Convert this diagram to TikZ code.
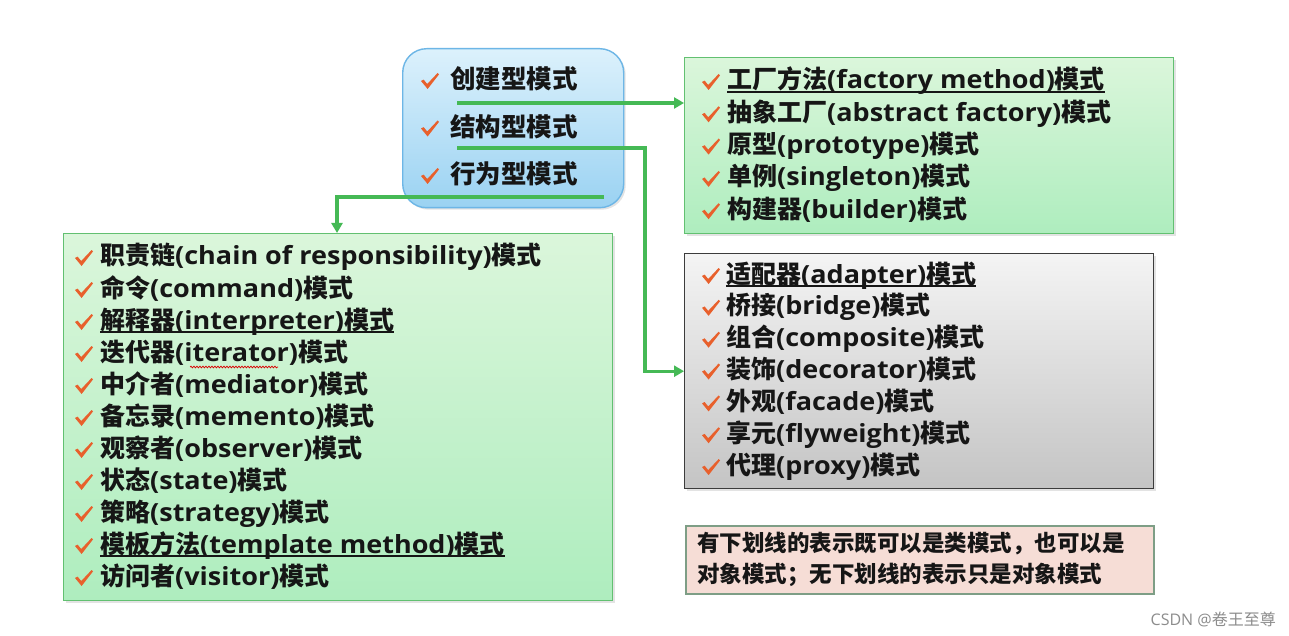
\documentclass[tikz,border=0pt]{standalone}
\usepackage{fontspec}
\setmainfont{Open Sans}[FakeStretch=1.08]
\newfontfamily\cjkf{Noto Sans CJK SC}
\newfontfamily\wmf{Open Sans}
\usetikzlibrary{arrows.meta,shadows,decorations.pathmorphing}
\definecolor{txt}{HTML}{161616}
\definecolor{conn}{HTML}{45B955}
\definecolor{chkc}{HTML}{E8602C}
\definecolor{grnb}{HTML}{62C071}
\definecolor{grnt}{HTML}{DBF6DB}
\definecolor{grnm}{HTML}{AEEDBE}
\definecolor{blub}{HTML}{6DB6E6}
\definecolor{blut}{HTML}{DCF1FC}
\definecolor{blum}{HTML}{9AD2F2}
\definecolor{gryb}{HTML}{3C3C3C}
\definecolor{gryt}{HTML}{F4F4F4}
\definecolor{grym}{HTML}{C4C4C4}
\definecolor{pnk}{HTML}{F6DDD6}
\definecolor{pnkb}{HTML}{7E9E86}
\definecolor{wm}{HTML}{8C8C8C}
\newlength\ulw
\newcommand\ulx[1]{\settowidth\ulw{#1}\rlap{\rule[-4pt]{\ulw}{1.7pt}}#1}
\newcommand\pat[2]{{\cjkf #1}(#2){\cjkf 模式}}
\tikzset{
  boxsh/.style={drop shadow={opacity=0.22,shadow xshift=2pt,shadow yshift=-2pt}},
  greenbox/.style={boxsh,draw=grnb,line width=1.4pt,top color=grnt,bottom color=grnm,anchor=north west,inner sep=0},
  graybox/.style={boxsh,draw=gryb,line width=1.4pt,top color=gryt,bottom color=grym,anchor=north west,inner sep=0},
  bluebox/.style={boxsh,draw=blub,line width=1.4pt,top color=blut,bottom color=blum,rounded corners=24pt,anchor=north west,inner sep=0},
  notebox/.style={draw=pnkb,line width=1.8pt,fill=pnk,anchor=north west,inner sep=0},
  item/.style={anchor=base west,inner sep=0,text=txt,font=\bfseries\fontsize{25}{30}\selectfont},
  cat/.style={anchor=base west,inner sep=0,text=txt,font=\bfseries\fontsize{25.5}{30}\selectfont},
  note/.style={anchor=base west,inner sep=0,text=txt,font=\bfseries\fontsize{22.5}{26}\selectfont\cjkf},
  conn/.style={draw=conn,line width=3.2pt},
  arr/.style={conn,-{Triangle[length=10pt,width=11pt]}},
  chk/.pic={\fill[chkc] (0,8) -- (2.6,6.6) -- (6.2,11) -- (16.6,0) -- (18,1.4) -- (6.6,16) -- cycle;}
}
\begin{document}
\begin{tikzpicture}[x=1pt,y=-1pt]
\useasboundingbox[fill=white] (0,0) rectangle (1289,636);
% boxes
\node[bluebox,minimum width=221pt,minimum height=159pt] (cat) at (402,48) {};
\node[greenbox,minimum width=489pt,minimum height=176pt] (crea) at (684,57) {};
\node[graybox,minimum width=469pt,minimum height=235pt] (stru) at (684,253) {};
\node[greenbox,minimum width=549pt,minimum height=367pt] (beh) at (63,233) {};
\node[notebox,minimum width=468pt,minimum height=68pt] (nt) at (685,525) {};
% category texts
\foreach \t [count=\i from 0] in {创建型模式,结构型模式,行为型模式}{
  \pic at (421,73+47.5*\i) {chk};
  \node[cat] (k\i) at (450,89+47.5*\i) {\cjkf\t};
}
% creational
\foreach \t [count=\i from 0] in {
  {\ulx{\pat{工厂方法}{factory method}}},
  {\pat{抽象工厂}{abstract factory}},
  {\pat{原型}{prototype}},
  {\pat{单例}{singleton}},
  {\pat{构建器}{builder}}}{
  \pic at (702,74+32.3*\i) {chk};
  \node[item] (c\i) at (727,89+32.3*\i) {\t};
}
% structural
\foreach \t [count=\i from 0] in {
  {\ulx{\pat{适配器}{adapter}}},
  {\pat{桥接}{bridge}},
  {\pat{组合}{composite}},
  {\pat{装饰}{decorator}},
  {\pat{外观}{facade}},
  {\pat{享元}{flyweight}},
  {\pat{代理}{proxy}}}{
  \pic at (702,268+31.85*\i) {chk};
  \node[item] (s\i) at (726,283+31.85*\i) {\t};
}
% behavioral
\foreach \t [count=\i from 0] in {
  {\pat{职责链}{chain of responsibility}},
  {\pat{命令}{command}},
  {\ulx{\pat{解释器}{interpreter}}},
  {\pat{迭代器}{iterator}},
  {\pat{中介者}{mediator}},
  {\pat{备忘录}{memento}},
  {\pat{观察者}{observer}},
  {\pat{状态}{state}},
  {\pat{策略}{strategy}},
  {\ulx{\pat{模板方法}{template method}}},
  {\pat{访问者}{visitor}}}{
  \pic at (75,250+32*\i) {chk};
  \node[item] (b\i) at (100,265+32*\i) {\t};
}
% spell-check wave under "iterator"
\coordinate (w1) at (190,367);
\coordinate (w2) at (278,367);
\draw[red!85!black,line width=0.7pt,decorate,decoration={snake,amplitude=0.9pt,segment length=3pt}] (w1) -- (w2);
% note
\node[note] (n1) at (697,551) {有下划线的表示既可以是类模式，也可以是};
\node[note] (n2) at (697,582) {对象模式；无下划线的表示只是对象模式};
% connectors
\coordinate (a1) at (457,103);
\draw[arr] (a1) -- (a1 -| crea.west);
\coordinate (a2) at (457,148);
\coordinate (a2k) at (645,148);
\draw[arr] (a2) -- (a2k) |- (stru.west);
\coordinate (a3) at (604,197);
\coordinate (a3k) at (337,197);
\draw[arr] (a3) -- (a3k) -- (a3k |- beh.north);
% watermark
\node[anchor=base east,inner sep=0,text=wm,font=\wmf\fontsize{16}{18}\selectfont] (wmk) at (1276,625) {CSDN @{\cjkf 卷王至尊}};
\end{tikzpicture}
\end{document}
